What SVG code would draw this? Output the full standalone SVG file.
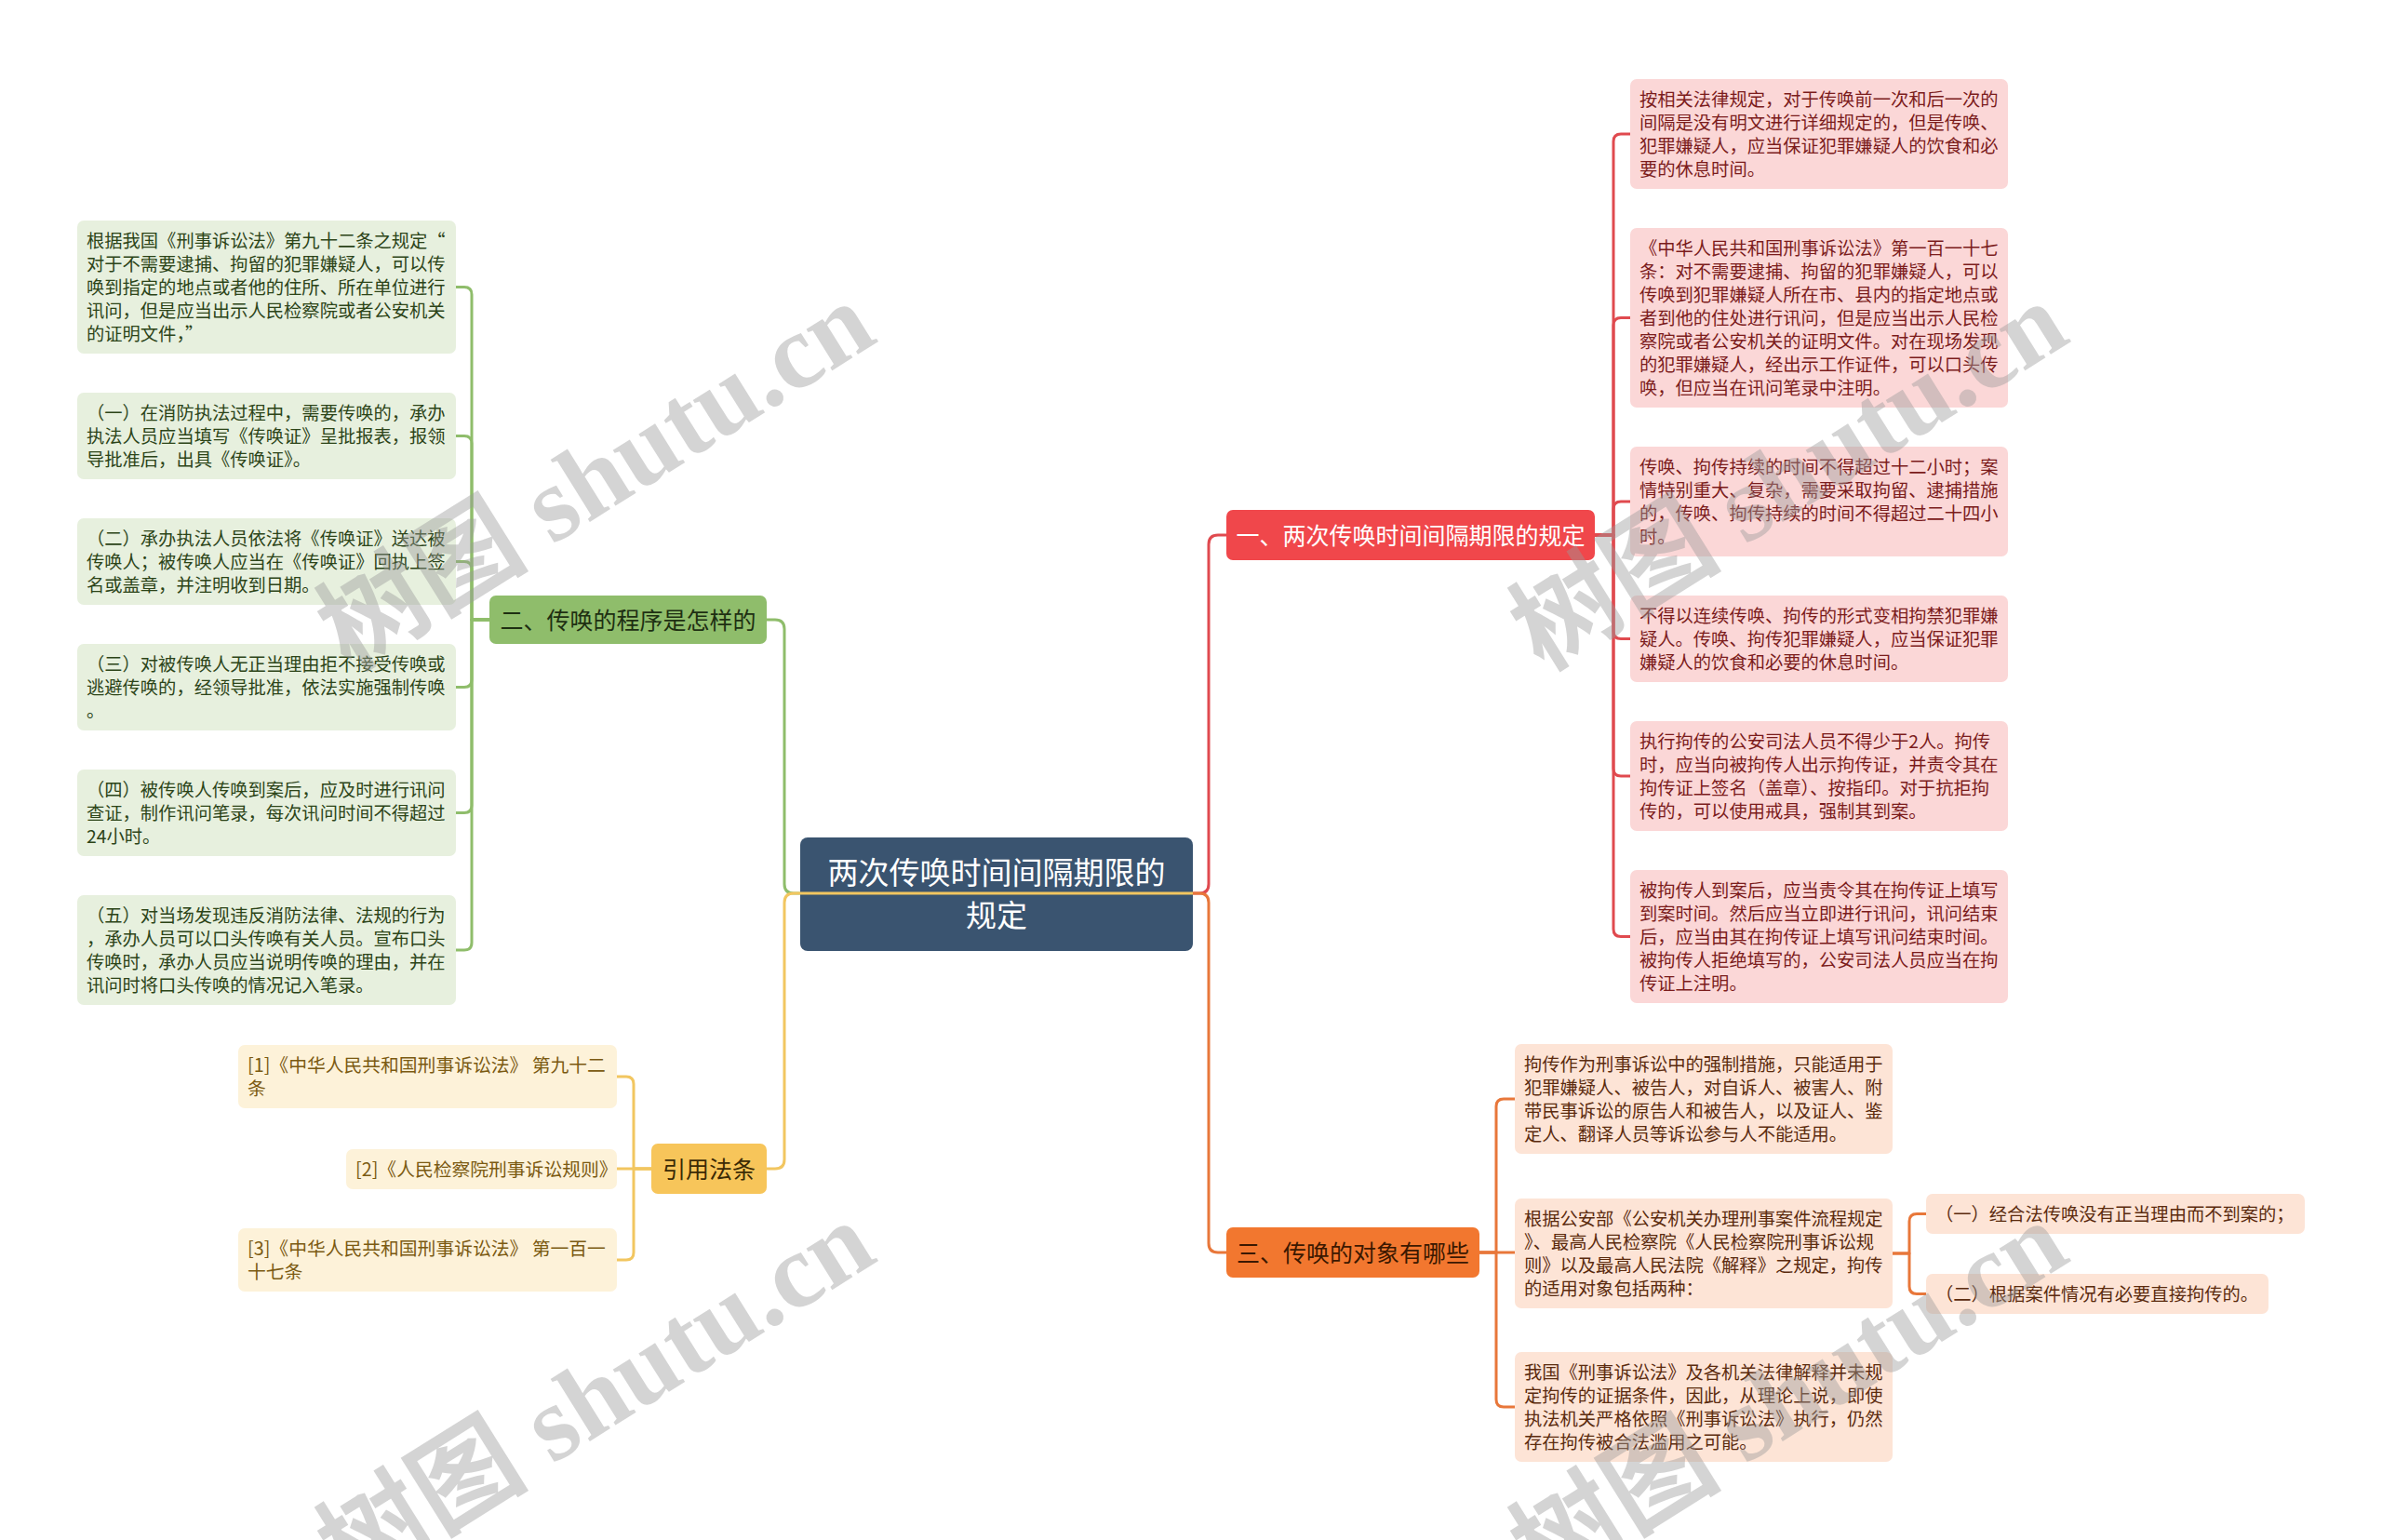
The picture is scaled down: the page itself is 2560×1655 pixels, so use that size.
<svg xmlns="http://www.w3.org/2000/svg" width="2560" height="1655" viewBox="0 0 2560 1655">
<style>
text{font-family:"Noto Sans CJK SC","Noto Sans",sans-serif;}
.leaf{font-size:19.3px;}
.yl{font-size:19.8px;fill:#7b5a12;}
.gt{fill:#2c4418;}
.rt{fill:#7b1c1c;}
.ot{fill:#5b2b0e;}
.br{font-size:25px;text-anchor:middle;}
.gl{fill:#e7f0de;}
.rl{fill:#fbd7d7;}
.ol{fill:#fde4d6;}
.ylf{fill:#fdf2d9;}
.con{fill:none;stroke-width:3;stroke-linejoin:round;}
.cg{stroke:#8fbd6b;}
.cy{stroke:#f2c660;}
.cr{stroke:#e04a4f;}
.co{stroke:#e8773a;}
.wm{font-family:"Liberation Serif","Noto Sans CJK SC",serif;font-weight:bold;font-size:114px;fill:#9a9a9a;opacity:0.42;}
</style>
<rect width="2560" height="1655" fill="#ffffff"/>

<g id="root">
<rect x="860" y="900" width="422" height="122" rx="8" fill="#3a5470"/>
<text x="1071" y="950" font-size="33" fill="#ffffff" text-anchor="middle">两次传唤时间间隔期限的</text>
<text x="1071" y="996" font-size="33" fill="#ffffff" text-anchor="middle">规定</text>
</g>

<g id="branch-green">
<rect x="526" y="640" width="298" height="52" rx="7" fill="#8fbd6b"/>
<text class="br" x="675" y="675.5" fill="#1e2f12">二、传唤的程序是怎样的</text>
</g>
<g id="branch-yellow">
<rect x="700" y="1229" width="124" height="54" rx="7" fill="#f7c55a"/>
<text class="br" x="762" y="1265.5" fill="#3b2a05">引用法条</text>
</g>
<g id="branch-red">
<rect x="1318" y="548" width="396" height="54" rx="7" fill="#f0474b"/>
<text class="br" x="1516" y="584.5" fill="#ffffff">一、两次传唤时间间隔期限的规定</text>
</g>
<g id="branch-orange">
<rect x="1318" y="1319" width="272" height="54" rx="7" fill="#f2772f"/>
<text class="br" x="1454" y="1355.5" fill="#3b1800">三、传唤的对象有哪些</text>
</g>

<g id="leaf-g1">
<rect class="gl" x="83" y="237" width="407" height="143" rx="7"/>
<text class="leaf gt" x="93" y="266">根据我国《刑事诉讼法》第九十二条之规定“</text>
<text class="leaf gt" x="93" y="291">对于不需要逮捕、拘留的犯罪嫌疑人，可以传</text>
<text class="leaf gt" x="93" y="316">唤到指定的地点或者他的住所、所在单位进行</text>
<text class="leaf gt" x="93" y="341">讯问，但是应当出示人民检察院或者公安机关</text>
<text class="leaf gt" x="93" y="366">的证明文件，”</text>
</g>
<g id="leaf-g2">
<rect class="gl" x="83" y="422" width="407" height="93" rx="7"/>
<text class="leaf gt" x="93" y="451">（一）在消防执法过程中，需要传唤的，承办</text>
<text class="leaf gt" x="93" y="476">执法人员应当填写《传唤证》呈批报表，报领</text>
<text class="leaf gt" x="93" y="501">导批准后，出具《传唤证》。</text>
</g>
<g id="leaf-g3">
<rect class="gl" x="83" y="557" width="407" height="93" rx="7"/>
<text class="leaf gt" x="93" y="586">（二）承办执法人员依法将《传唤证》送达被</text>
<text class="leaf gt" x="93" y="611">传唤人；被传唤人应当在《传唤证》回执上签</text>
<text class="leaf gt" x="93" y="636">名或盖章，并注明收到日期。</text>
</g>
<g id="leaf-g4">
<rect class="gl" x="83" y="692" width="407" height="93" rx="7"/>
<text class="leaf gt" x="93" y="721">（三）对被传唤人无正当理由拒不接受传唤或</text>
<text class="leaf gt" x="93" y="746">逃避传唤的，经领导批准，依法实施强制传唤</text>
<text class="leaf gt" x="93" y="771">。</text>
</g>
<g id="leaf-g5">
<rect class="gl" x="83" y="827" width="407" height="93" rx="7"/>
<text class="leaf gt" x="93" y="856">（四）被传唤人传唤到案后，应及时进行讯问</text>
<text class="leaf gt" x="93" y="881">查证，制作讯问笔录，每次讯问时间不得超过</text>
<text class="leaf gt" x="93" y="906">24小时。</text>
</g>
<g id="leaf-g6">
<rect class="gl" x="83" y="962" width="407" height="118" rx="7"/>
<text class="leaf gt" x="93" y="991">（五）对当场发现违反消防法律、法规的行为</text>
<text class="leaf gt" x="93" y="1016">，承办人员可以口头传唤有关人员。宣布口头</text>
<text class="leaf gt" x="93" y="1041">传唤时，承办人员应当说明传唤的理由，并在</text>
<text class="leaf gt" x="93" y="1066">讯问时将口头传唤的情况记入笔录。</text>
</g>

<g id="leaf-y1">
<rect class="ylf" x="256" y="1123" width="407" height="68" rx="7"/>
<text class="yl" x="266" y="1152">[1]《中华人民共和国刑事诉讼法》 第九十二</text>
<text class="yl" x="266" y="1177">条</text>
</g>
<g id="leaf-y2">
<rect class="ylf" x="372" y="1235" width="291" height="43" rx="7"/>
<text class="yl" x="382" y="1264">[2]《人民检察院刑事诉讼规则》</text>
</g>
<g id="leaf-y3">
<rect class="ylf" x="256" y="1320" width="407" height="68" rx="7"/>
<text class="yl" x="266" y="1349">[3]《中华人民共和国刑事诉讼法》 第一百一</text>
<text class="yl" x="266" y="1374">十七条</text>
</g>

<g id="leaf-r1">
<rect class="rl" x="1752" y="85" width="406" height="118" rx="7"/>
<text class="leaf rt" x="1762" y="114">按相关法律规定，对于传唤前一次和后一次的</text>
<text class="leaf rt" x="1762" y="139">间隔是没有明文进行详细规定的，但是传唤、</text>
<text class="leaf rt" x="1762" y="164">犯罪嫌疑人，应当保证犯罪嫌疑人的饮食和必</text>
<text class="leaf rt" x="1762" y="189">要的休息时间。</text>
</g>
<g id="leaf-r2">
<rect class="rl" x="1752" y="245" width="406" height="193" rx="7"/>
<text class="leaf rt" x="1762" y="274">《中华人民共和国刑事诉讼法》第一百一十七</text>
<text class="leaf rt" x="1762" y="299">条：对不需要逮捕、拘留的犯罪嫌疑人，可以</text>
<text class="leaf rt" x="1762" y="324">传唤到犯罪嫌疑人所在市、县内的指定地点或</text>
<text class="leaf rt" x="1762" y="349">者到他的住处进行讯问，但是应当出示人民检</text>
<text class="leaf rt" x="1762" y="374">察院或者公安机关的证明文件。对在现场发现</text>
<text class="leaf rt" x="1762" y="399">的犯罪嫌疑人，经出示工作证件，可以口头传</text>
<text class="leaf rt" x="1762" y="424">唤，但应当在讯问笔录中注明。</text>
</g>
<g id="leaf-r3">
<rect class="rl" x="1752" y="480" width="406" height="118" rx="7"/>
<text class="leaf rt" x="1762" y="509">传唤、拘传持续的时间不得超过十二小时；案</text>
<text class="leaf rt" x="1762" y="534">情特别重大、复杂，需要采取拘留、逮捕措施</text>
<text class="leaf rt" x="1762" y="559">的，传唤、拘传持续的时间不得超过二十四小</text>
<text class="leaf rt" x="1762" y="584">时。</text>
</g>
<g id="leaf-r4">
<rect class="rl" x="1752" y="640" width="406" height="93" rx="7"/>
<text class="leaf rt" x="1762" y="669">不得以连续传唤、拘传的形式变相拘禁犯罪嫌</text>
<text class="leaf rt" x="1762" y="694">疑人。传唤、拘传犯罪嫌疑人，应当保证犯罪</text>
<text class="leaf rt" x="1762" y="719">嫌疑人的饮食和必要的休息时间。</text>
</g>
<g id="leaf-r5">
<rect class="rl" x="1752" y="775" width="406" height="118" rx="7"/>
<text class="leaf rt" x="1762" y="804">执行拘传的公安司法人员不得少于2人。拘传</text>
<text class="leaf rt" x="1762" y="829">时，应当向被拘传人出示拘传证，并责令其在</text>
<text class="leaf rt" x="1762" y="854">拘传证上签名（盖章）、按指印。对于抗拒拘</text>
<text class="leaf rt" x="1762" y="879">传的，可以使用戒具，强制其到案。</text>
</g>
<g id="leaf-r6">
<rect class="rl" x="1752" y="935" width="406" height="143" rx="7"/>
<text class="leaf rt" x="1762" y="964">被拘传人到案后，应当责令其在拘传证上填写</text>
<text class="leaf rt" x="1762" y="989">到案时间。然后应当立即进行讯问，讯问结束</text>
<text class="leaf rt" x="1762" y="1014">后，应当由其在拘传证上填写讯问结束时间。</text>
<text class="leaf rt" x="1762" y="1039">被拘传人拒绝填写的，公安司法人员应当在拘</text>
<text class="leaf rt" x="1762" y="1064">传证上注明。</text>
</g>

<g id="leaf-o1">
<rect class="ol" x="1628" y="1122" width="406" height="118" rx="7"/>
<text class="leaf ot" x="1638" y="1151">拘传作为刑事诉讼中的强制措施，只能适用于</text>
<text class="leaf ot" x="1638" y="1176">犯罪嫌疑人、被告人，对自诉人、被害人、附</text>
<text class="leaf ot" x="1638" y="1201">带民事诉讼的原告人和被告人，以及证人、鉴</text>
<text class="leaf ot" x="1638" y="1226">定人、翻译人员等诉讼参与人不能适用。</text>
</g>
<g id="leaf-o2">
<rect class="ol" x="1628" y="1288" width="406" height="118" rx="7"/>
<text class="leaf ot" x="1638" y="1317">根据公安部《公安机关办理刑事案件流程规定</text>
<text class="leaf ot" x="1638" y="1342">》、最高人民检察院《人民检察院刑事诉讼规</text>
<text class="leaf ot" x="1638" y="1367">则》以及最高人民法院《解释》之规定，拘传</text>
<text class="leaf ot" x="1638" y="1392">的适用对象包括两种：</text>
</g>
<g id="leaf-o3">
<rect class="ol" x="1628" y="1453" width="406" height="118" rx="7"/>
<text class="leaf ot" x="1638" y="1482">我国《刑事诉讼法》及各机关法律解释并未规</text>
<text class="leaf ot" x="1638" y="1507">定拘传的证据条件，因此，从理论上说，即使</text>
<text class="leaf ot" x="1638" y="1532">执法机关严格依照《刑事诉讼法》执行，仍然</text>
<text class="leaf ot" x="1638" y="1557">存在拘传被合法滥用之可能。</text>
</g>
<g id="leaf-o2a">
<rect class="ol" x="2070" y="1283" width="407" height="43" rx="7"/>
<text class="leaf ot" x="2080" y="1312">（一）经合法传唤没有正当理由而不到案的；</text>
</g>
<g id="leaf-o2b">
<rect class="ol" x="2070" y="1369" width="368" height="43" rx="7"/>
<text class="leaf ot" x="2080" y="1398">（二）根据案件情况有必要直接拘传的。</text>
</g>

<g id="connectors">
<path class="con cg" d="M860,960 H853 Q843,960 843,950 V676 Q843,666 833,666 H824"/>
<path class="con cy" d="M1282,960 H853 Q843,960 843,970 V1246 Q843,1256 833,1256 H824"/>
<path class="con cr" d="M1282,960 H1289 Q1299,960 1299,950 V585 Q1299,575 1309,575 H1318"/>
<path class="con co" d="M1282,960 H1289 Q1299,960 1299,970 V1336 Q1299,1346 1309,1346 H1318"/>

<path class="con cg" d="M526,666 H507 V316.5 Q507,308.5 499,308.5 H490"/>
<path class="con cg" d="M526,666 H507 V476.5 Q507,468.5 499,468.5 H490"/>
<path class="con cg" d="M526,666 H507 V611.5 Q507,603.5 499,603.5 H490"/>
<path class="con cg" d="M526,666 H507 V730.5 Q507,738.5 499,738.5 H490"/>
<path class="con cg" d="M526,666 H507 V865.5 Q507,873.5 499,873.5 H490"/>
<path class="con cg" d="M526,666 H507 V1013 Q507,1021 499,1021 H490"/>

<path class="con cy" d="M700,1256 H681 V1165 Q681,1157 673,1157 H663"/>
<path class="con cy" d="M700,1256 H663"/>
<path class="con cy" d="M700,1256 H681 V1346 Q681,1354 673,1354 H663"/>

<path class="con cr" d="M1714,575 H1734 V152 Q1734,144 1742,144 H1752"/>
<path class="con cr" d="M1714,575 H1734 V349.5 Q1734,341.5 1742,341.5 H1752"/>
<path class="con cr" d="M1714,575 H1734 V547 Q1734,539 1742,539 H1752"/>
<path class="con cr" d="M1714,575 H1734 V678.5 Q1734,686.5 1742,686.5 H1752"/>
<path class="con cr" d="M1714,575 H1734 V826 Q1734,834 1742,834 H1752"/>
<path class="con cr" d="M1714,575 H1734 V998.5 Q1734,1006.5 1742,1006.5 H1752"/>

<path class="con co" d="M1590,1346 H1608 V1189 Q1608,1181 1616,1181 H1628"/>
<path class="con co" d="M1590,1346 H1628"/>
<path class="con co" d="M1590,1346 H1608 V1504 Q1608,1512 1616,1512 H1628"/>

<path class="con co" d="M2034,1347 H2052 V1312.5 Q2052,1304.5 2060,1304.5 H2070"/>
<path class="con co" d="M2034,1347 H2052 V1382.5 Q2052,1390.5 2060,1390.5 H2070"/>
</g>

<g id="watermarks">
<text class="wm" transform="translate(376,722) rotate(-32)">树图 shutu.cn</text>
<text class="wm" transform="translate(1658,722) rotate(-32)">树图 shutu.cn</text>
<text class="wm" transform="translate(376,1710) rotate(-32)">树图 shutu.cn</text>
<text class="wm" transform="translate(1658,1710) rotate(-32)">树图 shutu.cn</text>
</g>
</svg>
